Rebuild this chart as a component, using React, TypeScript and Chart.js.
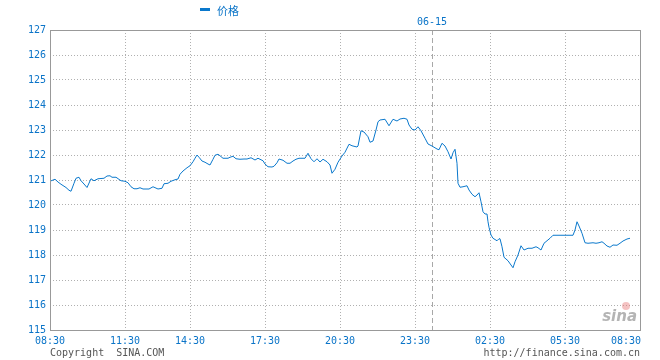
import { useEffect, useRef } from 'react';
import { Chart, registerables } from 'chart.js';

Chart.register(...registerables);

// sample index along the x axis (session-compressed minutes) and the price at that sample
const sampleIdx = [
  0, 5, 8, 11, 16, 19, 21, 24, 26, 29, 31, 34, 37, 41, 44, 48, 54, 57, 60, 62, 66, 71, 75, 78, 81, 84, 87, 90, 93, 99,
  103, 108, 112, 114, 118, 121, 125, 128, 130, 133, 137, 140, 143, 145, 147, 149, 152, 155, 158, 160, 163, 165, 168, 170,
  173, 178, 180, 183, 186, 190, 194, 197, 201, 205, 208, 213, 215, 218, 222, 224, 227, 229, 233, 237, 240, 243, 246, 249,
  255, 258, 261, 264, 267, 270, 273, 277, 280, 282, 285, 288, 292, 295, 299, 302, 307, 308, 311, 314, 318, 320, 323, 326,
  328, 330, 335, 339, 343, 347, 350, 354, 357, 359, 362, 365, 368, 371, 375, 378, 382, 387, 389, 392, 395, 398, 401, 403,
  405, 407, 408, 410, 413, 417, 419, 422, 425, 427, 429, 431, 433, 435, 437, 438, 439, 441, 443, 447, 449, 450, 452, 454,
  458, 461, 463, 465, 468, 471, 474, 478, 482, 486, 488, 491, 494, 497, 500, 503, 523, 525, 527, 529, 532, 535, 538, 543,
  546, 549, 552, 554, 557, 560, 563, 567, 570, 573, 577, 580,
];
const prices = [
  120.95, 121.03, 120.92, 120.83, 120.7, 120.59, 120.55, 120.87, 121.07, 121.11, 120.97, 120.84, 120.7, 121.05, 120.97,
  121.05, 121.07, 121.16, 121.17, 121.11, 121.11, 120.97, 120.95, 120.89, 120.73, 120.65, 120.65, 120.69, 120.64, 120.64,
  120.73, 120.64, 120.67, 120.85, 120.87, 120.95, 121.01, 121.04, 121.23, 121.36, 121.49, 121.57, 121.73, 121.87, 122.0,
  121.91, 121.76, 121.71, 121.64, 121.6, 121.83, 121.99, 122.03, 121.97, 121.87, 121.87, 121.91, 121.95, 121.85, 121.83,
  121.84, 121.84, 121.89, 121.8, 121.87, 121.77, 121.64, 121.53, 121.52, 121.55, 121.69, 121.84, 121.79, 121.67, 121.67,
  121.76, 121.83, 121.87, 121.87, 122.07, 121.85, 121.73, 121.85, 121.72, 121.83, 121.73, 121.6, 121.27, 121.43, 121.71,
  121.96, 122.11, 122.43, 122.37, 122.32, 122.36, 122.97, 122.92, 122.73, 122.51, 122.56, 123.0, 123.33, 123.4, 123.43,
  123.17, 123.43, 123.36, 123.44, 123.47, 123.43, 123.2, 123.03, 123.0, 123.13, 122.97, 122.67, 122.44, 122.36, 122.24,
  122.21, 122.47, 122.36, 122.13, 121.84, 122.09, 122.23, 121.67, 120.87, 120.71, 120.73, 120.77, 120.6, 120.43, 120.33,
  120.4, 120.49, 120.13, 119.73, 119.64, 119.64, 119.33, 119.11, 118.8, 118.67, 118.57, 118.65, 118.65, 118.33, 117.91,
  117.77, 117.6, 117.49, 117.73, 118.0, 118.37, 118.2, 118.27, 118.27, 118.33, 118.29, 118.2, 118.47, 118.57, 118.67,
  118.79, 118.79, 119.0, 119.33, 119.16, 118.87, 118.49, 118.47, 118.49, 118.47, 118.49, 118.53, 118.47, 118.36, 118.31,
  118.4, 118.39, 118.47, 118.56, 118.64, 118.67,
];

const tickIdx = [0, 75, 140, 215, 290, 365, 440, 515, 590];
const tickLabels = ['08:30', '11:30', '14:30', '17:30', '20:30', '23:30', '02:30', '05:30', '08:30'];
const dayBreakIdx = 382;
const dayBreakLabel = '06-15';
const seriesName = '价格';
const yMin = 115;
const yMax = 127;
const footerLeft = 'Copyright  SINA.COM';
const footerRight = 'http://finance.sina.com.cn';

export default function App() {
  const ref = useRef<HTMLCanvasElement>(null);

  useEffect(() => {
    const canvas = ref.current;
    if (!canvas) return;
    const mono = '"DejaVu Sans Mono", "Liberation Mono", monospace';
    const textBlue = '#0a74c8';
    const lineBlue = '#0a78cc';
    const gridColor = '#b0b0b0';

    const decor = {
      id: 'sinaDecor',
      beforeDatasetsDraw(chart: any) {
        const { ctx, chartArea } = chart;
        const xs = chart.scales.x;
        const px = Math.round(xs.getPixelForValue(dayBreakIdx)) + 0.5;
        ctx.save();
        ctx.strokeStyle = '#a8a8a8';
        ctx.lineWidth = 1;
        ctx.setLineDash([5, 3]);
        ctx.beginPath();
        ctx.moveTo(px, chartArea.top);
        ctx.lineTo(px, chartArea.bottom);
        ctx.stroke();
        ctx.restore();

        // sina watermark
        ctx.save();
        ctx.fillStyle = 'rgba(230,120,120,0.45)';
        ctx.beginPath();
        ctx.arc(626, 306, 4, 0, Math.PI * 2);
        ctx.fill();
        ctx.fillStyle = '#b4b4b4';
        ctx.font = 'italic bold 15px "DejaVu Sans", sans-serif';
        ctx.textAlign = 'right';
        ctx.textBaseline = 'alphabetic';
        ctx.fillText('sina', 637, 321);
        ctx.restore();
      },
      afterDraw(chart: any) {
        const { ctx, chartArea } = chart;
        const xs = chart.scales.x;
        ctx.save();
        // frame
        ctx.strokeStyle = '#999999';
        ctx.lineWidth = 1;
        ctx.setLineDash([]);
        ctx.strokeRect(
          chartArea.left + 0.5,
          chartArea.top + 0.5,
          chartArea.right - chartArea.left,
          chartArea.bottom - chartArea.top
        );
        // x tick labels
        ctx.fillStyle = textBlue;
        ctx.font = `10px ${mono}`;
        ctx.textBaseline = 'middle';
        tickIdx.forEach((v, i) => {
          const x = xs.getPixelForValue(v);
          ctx.textAlign = i === tickIdx.length - 1 ? 'right' : 'center';
          ctx.fillText(tickLabels[i], i === tickIdx.length - 1 ? x + 1 : x, chartArea.bottom + 11);
        });
        // date label
        ctx.textAlign = 'center';
        ctx.fillText(dayBreakLabel, xs.getPixelForValue(dayBreakIdx), chartArea.top - 8);
        // legend
        ctx.fillStyle = lineBlue;
        ctx.fillRect(200, 8, 10, 3);
        ctx.fillStyle = textBlue;
        ctx.font = '11px "Noto Sans CJK SC", sans-serif';
        ctx.textAlign = 'left';
        ctx.fillText(seriesName, 217, 11);
        // footer
        ctx.fillStyle = '#555555';
        ctx.font = `10px ${mono}`;
        ctx.textAlign = 'left';
        ctx.fillText(footerLeft, 50, 353);
        ctx.textAlign = 'right';
        ctx.fillText(footerRight, 640, 353);
        ctx.restore();
      },
    };

    const chart = new Chart(canvas, {
      type: 'line',
      data: {
        datasets: [
          {
            label: seriesName,
            data: sampleIdx.map((x, i) => ({ x, y: prices[i] })),
            borderColor: lineBlue,
            borderWidth: 1,
            pointRadius: 0,
            tension: 0,
            fill: false,
          },
        ],
      },
      options: {
        animation: false,
        responsive: false,
        events: [],
        layout: { padding: { top: 30, right: 20, left: 0, bottom: 0 } },
        plugins: { legend: { display: false }, tooltip: { enabled: false } },
        scales: {
          x: {
            type: 'linear',
            min: tickIdx[0],
            max: tickIdx[tickIdx.length - 1],
            afterBuildTicks: (s: any) => {
              s.ticks = tickIdx.map((v) => ({ value: v }));
            },
            afterFit: (s: any) => {
              s.height = 30;
            },
            ticks: { display: false },
            grid: { color: gridColor, lineWidth: 1, drawTicks: false },
            border: { display: false, dash: [1, 2] },
          },
          y: {
            type: 'linear',
            min: yMin,
            max: yMax,
            afterFit: (s: any) => {
              s.width = 50;
            },
            ticks: {
              stepSize: 1,
              color: textBlue,
              font: { family: mono, size: 10 },
              padding: 4,
            },
            grid: { color: gridColor, lineWidth: 1, drawTicks: false },
            border: { display: false, dash: [1, 2] },
          },
        },
      },
      plugins: [decor],
    } as any);

    return () => chart.destroy();
  }, []);

  return (
    <div style={{ position: 'absolute', left: 0, top: 0, width: 660, height: 360, background: '#fff' }}>
      <canvas ref={ref} width={660} height={360} style={{ display: 'block' }} />
    </div>
  );
}
